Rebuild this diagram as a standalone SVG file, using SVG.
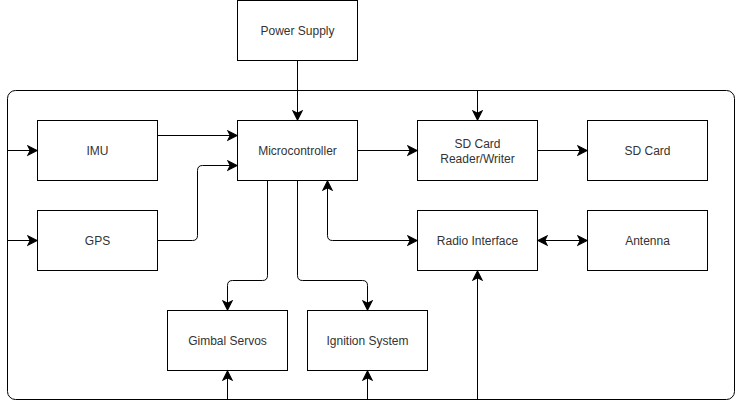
<svg xmlns="http://www.w3.org/2000/svg" width="739" height="409" viewBox="0 0 739 409">
<style>
.box{fill:#fff;stroke:#000;stroke-width:1}
.lbl{font-family:"Liberation Sans",Arial,sans-serif;font-size:12px;fill:#333;text-anchor:middle;dominant-baseline:central}
.edge{fill:none;stroke:#000;stroke-width:1}
</style>
<defs>
<marker id="arr" markerUnits="userSpaceOnUse" markerWidth="12" markerHeight="12" viewBox="-8 -5 9 10" refX="0" refY="0" orient="auto-start-reverse">
<path d="M0,0 L-7.5,-3.75 L-5.6,0 L-7.5,3.75 Z" fill="#000" stroke="#000" stroke-width="1"/>
</marker>
</defs>
<rect x="0" y="0" width="739" height="409" fill="#fff"/>
<g id="system-boundary">
<rect x="7.5" y="90.5" width="727" height="309" rx="8" ry="8" fill="none" stroke="#000" stroke-width="1"/>
</g>
<g id="power-supply"><rect class="box" x="237.5" y="0.5" width="120" height="60"/><text class="lbl" x="297.5" y="30.5">Power Supply</text></g>
<g id="imu"><rect class="box" x="37.5" y="120.5" width="120" height="60"/><text class="lbl" x="97.5" y="150.5">IMU</text></g>
<g id="microcontroller"><rect class="box" x="237.5" y="120.5" width="120" height="60"/><text class="lbl" x="297.5" y="150.5">Microcontroller</text></g>
<g id="sd-reader"><rect class="box" x="417.5" y="120.5" width="120" height="60"/><text class="lbl" x="477.5" y="143.5">SD Card</text><text class="lbl" x="477.5" y="158.5">Reader/Writer</text></g>
<g id="sd-card"><rect class="box" x="587.5" y="120.5" width="120" height="60"/><text class="lbl" x="647.5" y="150.5">SD Card</text></g>
<g id="gps"><rect class="box" x="37.5" y="210.5" width="120" height="60"/><text class="lbl" x="97.5" y="240.5">GPS</text></g>
<g id="radio"><rect class="box" x="417.5" y="210.5" width="120" height="60"/><text class="lbl" x="477.5" y="240.5">Radio Interface</text></g>
<g id="antenna"><rect class="box" x="587.5" y="210.5" width="120" height="60"/><text class="lbl" x="647.5" y="240.5">Antenna</text></g>
<g id="gimbal"><rect class="box" x="167.5" y="310.5" width="120" height="60"/><text class="lbl" x="227.5" y="340.5">Gimbal Servos</text></g>
<g id="ignition"><rect class="box" x="307.5" y="310.5" width="120" height="60"/><text class="lbl" x="367.5" y="340.5">Ignition System</text></g>
<g id="connectors">
<path class="edge" d="M297.5,60.5 V120" marker-end="url(#arr)"/>
<path class="edge" d="M7.5,150.5 H37" marker-end="url(#arr)"/>
<path class="edge" d="M7.5,240.5 H37" marker-end="url(#arr)"/>
<path class="edge" d="M157.5,135.5 H237" marker-end="url(#arr)"/>
<path class="edge" d="M157.5,240.5 H192.5 Q197.5,240.5 197.5,235.5 V170.5 Q197.5,165.5 202.5,165.5 H237" marker-end="url(#arr)"/>
<path class="edge" d="M357.5,150.5 H417" marker-end="url(#arr)"/>
<path class="edge" d="M477.5,90.5 V120" marker-end="url(#arr)"/>
<path class="edge" d="M537.5,150.5 H587" marker-end="url(#arr)"/>
<path class="edge" d="M327.5,181 V235.5 Q327.5,240.5 332.5,240.5 H417" marker-start="url(#arr)" marker-end="url(#arr)"/>
<path class="edge" d="M538,240.5 H587" marker-start="url(#arr)" marker-end="url(#arr)"/>
<path class="edge" d="M477.5,399.5 V271" marker-end="url(#arr)"/>
<path class="edge" d="M267.5,180.5 V275.5 Q267.5,280.5 262.5,280.5 H232.5 Q227.5,280.5 227.5,285.5 V310" marker-end="url(#arr)"/>
<path class="edge" d="M297.5,180.5 V275.5 Q297.5,280.5 302.5,280.5 H362.5 Q367.5,280.5 367.5,285.5 V310" marker-end="url(#arr)"/>
<path class="edge" d="M227.5,399.5 V371" marker-end="url(#arr)"/>
<path class="edge" d="M367.5,399.5 V371" marker-end="url(#arr)"/>
</g>
</svg>
